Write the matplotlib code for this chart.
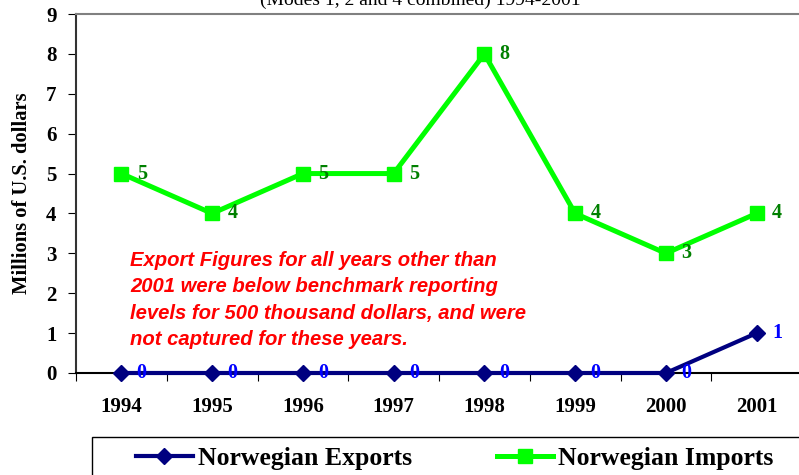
import matplotlib.pyplot as plt
from matplotlib.patches import Rectangle

years = ['1994', '1995', '1996', '1997', '1998', '1999', '2000', '2001']
exports = [0, 0, 0, 0, 0, 0, 0, 1]
imports = [5, 4, 5, 5, 8, 4, 3, 4]

note = ('Export Figures for all years other than\n'
        '2001 were below benchmark reporting\n'
        'levels for 500 thousand dollars, and were\n'
        'not captured for these years.')

serif = ['Liberation Serif', 'DejaVu Serif']
sans = ['Liberation Sans', 'DejaVu Sans']

fig = plt.figure(figsize=(7.99, 4.75), dpi=100)
ax = fig.add_axes([76 / 799, 102 / 475, 726 / 799, 359 / 475])

x = list(range(len(years)))
ax.plot(x, imports, color='#00ff00', lw=3.6, marker='s', ms=10,
        label='Norwegian Imports', zorder=3)
ax.plot(x, exports, color='#000080', lw=3.0, marker='D', ms=8,
        label='Norwegian Exports', zorder=4, clip_on=False)

# data labels
for i, v in enumerate(imports):
    ax.annotate(str(v), (i, v), xytext=(11, 0), textcoords='offset points',
                va='center', ha='left', color='#008000', fontsize=14.5,
                fontweight='bold', family=serif)
for i, v in enumerate(exports):
    ax.annotate(str(v), (i, v), xytext=(11, 0), textcoords='offset points',
                va='center', ha='left', color='#0000ff', fontsize=14.5,
                fontweight='bold', family=serif, zorder=5)

ax.text(0.095, 1.83, note, color='#ff0000', fontsize=14.6, fontweight='bold',
        style='italic', family=sans, va='center', ha='left', linespacing=1.5)

ax.set_xlim(-0.5, 7.5)
ax.set_ylim(0, 9)
ax.set_yticks(range(10))
ax.set_xticks([i - 0.5 for i in range(len(years) + 1)])
ax.set_xticklabels([])
ax.set_xticks(x, minor=True)
ax.set_xticklabels(years, minor=True)
ax.tick_params(axis='x', which='minor', length=0, pad=17)
ax.tick_params(axis='x', which='major', length=6, direction='out')
ax.tick_params(axis='y', length=6, direction='out', pad=8)
for lab in ax.get_xticklabels(minor=True) + ax.get_yticklabels():
    lab.set_family(serif)
    lab.set_fontweight('bold')
    lab.set_fontsize(15)

ax.spines['right'].set_visible(False)
ax.spines['top'].set_color('#808080')
ax.spines['top'].set_linewidth(1.5)
ax.spines['left'].set_color('#333333')
ax.spines['left'].set_linewidth(1.5)
ax.spines['bottom'].set_color('#000000')
ax.spines['bottom'].set_linewidth(1.5)

ax.set_ylabel('Millions of U.S. dollars', family=serif, fontweight='bold',
              fontsize=14.8, labelpad=10)

fig.text(420 / 799, 1.0, '(Modes 1, 2 and 4 combined) 1994-2001', family=serif,
         fontsize=14, ha='center', va='center')

# legend frame and entries
fig.patches.append(Rectangle((92 / 799, -0.1), 1.0, (475 - 437) / 475 + 0.1,
                             transform=fig.transFigure, fill=False,
                             edgecolor='#000000', lw=1.0))
h, l = ax.get_legend_handles_labels()
fig.legend(h[::-1], l[::-1], loc='center left', bbox_to_anchor=(136 / 799, 17 / 475),
           ncol=2, frameon=False, prop={'family': serif, 'weight': 'bold', 'size': 18.5},
           handlelength=2.2, handletextpad=0.2, columnspacing=3.3, borderpad=0,
           borderaxespad=0)

fig.savefig('out.png', dpi=100)
